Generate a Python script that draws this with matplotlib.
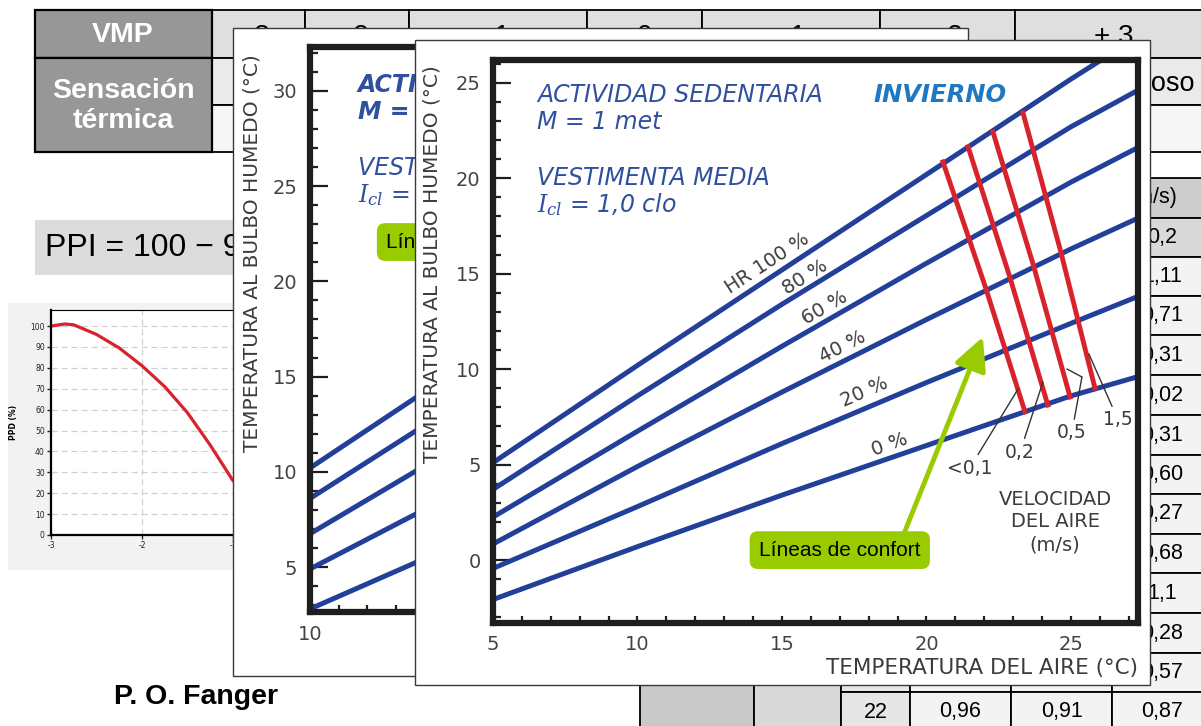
import matplotlib
matplotlib.use("Agg")
import matplotlib.pyplot as plt
from matplotlib.patches import Rectangle
from matplotlib.ticker import MultipleLocator

plt.rcParams["font.family"] = ["DejaVu Sans"]
plt.rcParams["axes.unicode_minus"] = False

W, H = 1201, 726

# ---- data ----
vmp = ["-3", "-2", "-1", "0", "+1", "+2", "+ 3"]
sensacion = ["Frío", "Fresco", "Ligeramente\nfresco", "Neutro", "Ligeramente\ncaluroso",
             "Caluroso", "Muy caluroso"]

vel_col = ["(m/s)", "0,2", "1,11", "0,71", "0,31", "0,02", "0,31", "0,60",
           "0,27", "0,68", "1,1", "0,28", "0,57", "0,87"]
last_row = ["22", "0,96", "0,91"]

ppd_pmv = [-3, -2.85, -2.75, -2.5, -2.25, -2, -1.75, -1.5, -1.25, -1, -0.75, -0.5, -0.25,
           0, 0.25, 0.5, 0.75, 1, 1.25, 1.5, 1.75, 2, 2.25, 2.5, 2.75, 3]
ppd = [100, 101, 100.6, 96, 89.5, 81, 71, 58.5, 43, 26, 17, 10, 6,
       5, 6, 10, 17, 26, 43, 58.5, 71, 81, 89.5, 96, 100.6, 100]

t_aire = [5, 10, 15, 20, 25, 27.3]
hr100 = [5.1, 10.2, 15.2, 20.2, 25.2, 27.4]
hr80 = [3.7, 8.6, 13.4, 18.05, 22.7, 24.6]
hr60 = [2.25, 6.75, 11.2, 15.55, 19.8, 21.6]
hr40 = [0.84, 4.9, 8.8, 12.6, 16.3, 17.9]
hr20 = [-0.44, 2.8, 6.1, 9.3, 12.4, 13.8]
hr0 = [-2.07, 0.7, 3.4, 6.0, 8.6, 9.6]
hr_series = [hr100, hr80, hr60, hr40, hr20, hr0]
hr_labels = ["HR 100 %", "80 %", "60 %", "40 %", "20 %", "0 %"]
hr_label_x = [14.48, 15.80, 16.49, 17.11, 17.87, 18.74]
hr_label_y = [15.57, 14.83, 13.2, 11.16, 8.8, 6.03]
hr_label_rot = [33, 32, 30, 27, 23.5, 19.5]

vel_labels = ["<0,1", "0,2", "0,5", "1,5"]
conf_x = [[20.57, 22.04, 23.41], [21.44, 22.87, 24.20],
          [22.30, 23.69, 24.97], [23.34, 24.64, 25.83]]
conf_y = [[20.86, 14.3, 7.76], [21.65, 14.9, 8.12],
          [22.43, 15.5, 8.54], [23.43, 16.2, 9.01]]
vel_label_pos = [(21.5, 4.82), (23.24, 5.66), (25.03, 6.66), (26.63, 7.34)]
vel_leader_to = [(23.17, 8.96), (24.03, 9.33), (25.38, 9.59), (25.62, 10.8)]

BLUE = "#22409a"
RED = "#d8232c"
TXT_BLUE = "#2f4f9f"
GRAY_TXT = "#3c3c3c"
GREEN = "#99cc00"

fig = plt.figure(figsize=(W / 100, H / 100), dpi=100)


def px_axes(l, t, r, b):
    return fig.add_axes([l / W, 1 - b / H, (r - l) / W, (b - t) / H])


def layer():
    ax = fig.add_axes([0, 0, 1, 1])
    ax.set_xlim(0, W)
    ax.set_ylim(H, 0)
    ax.axis("off")
    return ax


def cell(ax, l, t, r, b, fc, lw=1.3):
    ax.add_patch(Rectangle((l, t), r - l, b - t, fc=fc, ec="black", lw=lw))


# ---------------- background: tables, formula, author ----------------
base = layer()
top_cols = [35, 212, 305, 409, 587, 702, 880, 1015, 1213]
top_rows = [10, 58, 105, 152]
row_fc = ["#dfdfdf", "#eaeaea", "#f6f6f6"]
for i in range(1, len(top_cols) - 1):
    for r in range(3):
        cell(base, top_cols[i], top_rows[r], top_cols[i + 1], top_rows[r + 1], row_fc[r])
    cx = (top_cols[i] + top_cols[i + 1]) / 2
    base.text(cx, 37, vmp[i - 1], ha="center", va="center", fontsize=20, family="Liberation Sans")
    base.text(cx, 84, sensacion[i - 1], ha="center", va="center", fontsize=19.5, family="Liberation Sans")
cell(base, 35, 10, 212, 58, "#979797", lw=1.6)
cell(base, 35, 58, 212, 152, "#979797", lw=1.6)
base.text(123, 35, "VMP", ha="center", va="center", fontsize=20.5, color="white",
          fontweight="bold", family="Liberation Sans")
base.text(123, 106, "Sensación\ntérmica", ha="center", va="center", fontsize=20.5, color="white",
          fontweight="bold", family="Liberation Sans", linespacing=1.15)

tab_cols = [640, 754, 841, 910, 1011, 1112, 1212]
tab_rows = [178, 218, 257, 296, 335, 375, 415, 455, 494, 534, 573, 613, 653, 692, 732]
cell(base, 640, 178, 754, 732, "#c9c9c9")
cell(base, 754, 178, 841, 732, "#d9d9d9")
for r in range(len(tab_rows) - 1):
    for c in range(2, len(tab_cols) - 1):
        fc = "#cdcdcd" if r == 0 else ("#d9d9d9" if r == 1 else "#f3f3f3")
        if c == 2 and r > 1:
            fc = "#e6e6e6"
        cell(base, tab_cols[c], tab_rows[r], tab_cols[c + 1], tab_rows[r + 1], fc)
    cy = (tab_rows[r] + tab_rows[r + 1]) / 2
    if r == 0:
        base.text(1177, cy, vel_col[r], ha="right", va="center", fontsize=15.5, family="Liberation Sans")
    else:
        base.text(1162, cy, vel_col[r], ha="center", va="center", fontsize=15.5, family="Liberation Sans")
for c, s in enumerate(last_row):
    cx = (tab_cols[c + 2] + tab_cols[c + 3]) / 2
    base.text(cx, 712, s, ha="center", va="center", fontsize=15.5, family="Liberation Sans")

base.add_patch(Rectangle((35, 220), 400, 55, fc="#dcdcdc", ec="none"))
base.text(45, 248, "PPI = 100 − 95·exp(−0,03353·PMV⁴ − 0,2179·PMV²)", va="center",
          fontsize=23, family="Liberation Sans")
base.add_patch(Rectangle((8, 303), 600, 267, fc="#f2f2f2", ec="none"))
base.text(196, 697, "P. O. Fanger", ha="center", va="center", fontsize=20.5,
          fontweight="bold", family="Liberation Sans")

# ---------------- PPD curve ----------------
axp = px_axes(51, 310, 597, 535)
axp.plot(ppd_pmv, ppd, color=RED, lw=2.3)
axp.set_xlim(-3, 3)
axp.set_ylim(0, 107.7)
axp.set_yticks(range(0, 101, 10))
axp.set_xticks([-3, -2, -1, 0, 1, 2, 3])
axp.grid(True, color="#ccd1d6", lw=0.9, ls=(0, (5, 3)))
axp.set_axisbelow(True)
axp.tick_params(labelsize=5.5, length=3, width=1, pad=1.5, colors="#222")
for s in ["left", "bottom"]:
    axp.spines[s].set_linewidth(1.6)
axp.spines["right"].set_visible(False)
axp.set_ylabel("PPD (%)", fontsize=5.5, fontweight="bold")
axp.yaxis.set_label_coords(-0.06, 0.5)


def style_chart(ax):
    for s in ax.spines.values():
        s.set_linewidth(4.5)
        s.set_color("#1e1e1e")
    ax.xaxis.set_major_locator(MultipleLocator(5))
    ax.xaxis.set_minor_locator(MultipleLocator(1))
    ax.yaxis.set_major_locator(MultipleLocator(5))
    ax.yaxis.set_minor_locator(MultipleLocator(1))
    ax.tick_params(which="both", direction="in", color="#1e1e1e", labelcolor="#444",
                   labelsize=14, width=1.6)
    ax.tick_params(axis="y", which="major", length=13, pad=9)
    ax.tick_params(axis="y", which="minor", length=6)
    ax.tick_params(axis="x", which="both", length=5, pad=9)
    ax.patch.set_visible(False)


# ---------------- panel 1 (behind) ----------------
p1 = layer()
p1.add_patch(Rectangle((233, 28), 735, 648, fc="white", ec="#3a3a3a", lw=1))
p1.text(252, 253, "TEMPERATURA AL BULBO HUMEDO (°C)", rotation=90, ha="center", va="center",
        fontsize=14.5, color=GRAY_TXT)
p1.text(358, 85, "ACTIVIDAD SEDENTARIA", fontsize=17, style="italic", fontweight="bold",
        color=TXT_BLUE, va="center")
p1.text(358, 112, "M = 1 met", fontsize=17, style="italic", fontweight="bold",
        color=TXT_BLUE, va="center")
p1.text(358, 168, "VESTIMENTA LIGERA", fontsize=17, style="italic", color=TXT_BLUE, va="center")
p1.text(358, 195, "$I_{cl}$ = 0,5 clo", fontsize=17, style="italic", color=TXT_BLUE,
        va="center", math_fontfamily="dejavuserif")
p1.text(467, 242, "Líneas de confort", ha="center", va="center", fontsize=15,
        family="Liberation Sans",
        bbox=dict(boxstyle="round,pad=0.45,rounding_size=0.4", fc=GREEN, ec="none"))

ax1 = px_axes(310, 47, 960, 612)
for ys in hr_series:
    ax1.plot(t_aire, ys, color=BLUE, lw=3.6)
ax1.set_xlim(10, 32.7)
ax1.set_ylim(2.64, 32.3)
style_chart(ax1)

# ---------------- panel 2 (front) ----------------
p2 = layer()
p2.add_patch(Rectangle((415, 40), 735, 645, fc="white", ec="#3a3a3a", lw=1))
p2.text(432, 264, "TEMPERATURA AL BULBO HUMEDO (°C)", rotation=90, ha="center", va="center",
        fontsize=14.5, color=GRAY_TXT)
p2.text(1138, 668, "TEMPERATURA DEL AIRE (°C)", ha="right", va="center",
        fontsize=15.5, color=GRAY_TXT)
p2.text(537, 95, "ACTIVIDAD SEDENTARIA", fontsize=17, style="italic", color=TXT_BLUE, va="center")
p2.text(537, 122, "M = 1 met", fontsize=17, style="italic", color=TXT_BLUE, va="center")
p2.text(537, 178, "VESTIMENTA MEDIA", fontsize=17, style="italic", color=TXT_BLUE, va="center")
p2.text(537, 205, "$I_{cl}$ = 1,0 clo", fontsize=17, style="italic", color=TXT_BLUE,
        va="center", math_fontfamily="dejavuserif")
p2.text(873, 95, "INVIERNO", fontsize=17.5, style="italic", fontweight="bold",
        color="#1f78c1", va="center")

ax2 = px_axes(493, 60, 1138, 623)
for ys in hr_series:
    ax2.plot(t_aire, ys, color=BLUE, lw=3.6)
for xs, ys in zip(conf_x, conf_y):
    ax2.plot(xs, ys, color=RED, lw=3.5, zorder=3)
for s, x, y, rot in zip(hr_labels, hr_label_x, hr_label_y, hr_label_rot):
    ax2.text(x, y, s, rotation=rot, rotation_mode="anchor", ha="center", va="center",
             fontsize=14, color=GRAY_TXT)
for s, pos, tgt in zip(vel_labels, vel_label_pos, vel_leader_to):
    ax2.annotate(s, xy=tgt, xytext=pos, ha="center", va="center", fontsize=13.5, color=GRAY_TXT,
                 arrowprops=dict(arrowstyle="-", color="#333", lw=1, shrinkA=1, shrinkB=0))
ax2.annotate("", xy=(24.86, 10.01), xytext=vel_leader_to[2],
             arrowprops=dict(arrowstyle="-", color="#333", lw=1, shrinkA=0, shrinkB=0))
ax2.text(24.45, 2.0, "VELOCIDAD\nDEL AIRE\n(m/s)", ha="center", va="center", fontsize=14,
         color=GRAY_TXT, linespacing=1.25)
ax2.annotate("Líneas de confort", xy=(21.95, 11.69), xytext=(17.0, 0.52), ha="center", va="center",
             fontsize=15, family="Liberation Sans",
             bbox=dict(boxstyle="round,pad=0.45,rounding_size=0.4", fc=GREEN, ec="none"),
             arrowprops=dict(arrowstyle="-|>,head_length=1.0,head_width=0.5", color=GREEN, lw=3.5,
                             mutation_scale=20, relpos=(0.88, 1.0), shrinkA=0, shrinkB=0))
ax2.set_xlim(5, 27.32)
ax2.set_ylim(-3.3, 26.2)
style_chart(ax2)

fig.savefig("out.png", dpi=100)
